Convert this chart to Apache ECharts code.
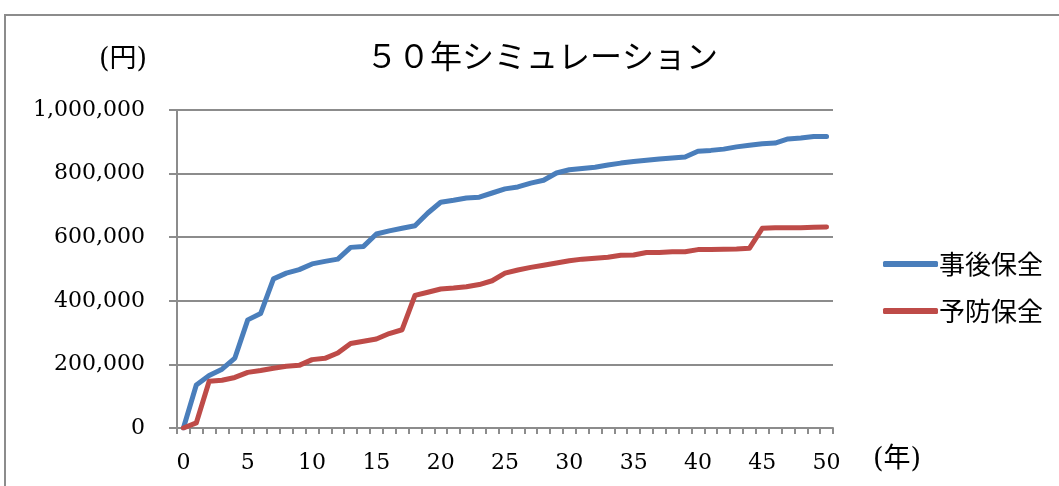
<!DOCTYPE html>
<html>
<head>
<meta charset="utf-8">
<script src="https://cdn.jsdelivr.net/npm/echarts@6/dist/echarts.min.js"></script>
<style>html,body{margin:0;padding:0;background:#fff;}#c{width:1059px;height:486px;}</style>
</head>
<body>
<div id="c"></div>
<script>
const years = Array.from({length: 51}, (_, i) => String(i));
const jigoHozen = [0,135000,165000,185000,220000,340000,360000,469000,487000,498000,
  516000,524000,531000,568000,571000,610000,620000,628000,636000,676000,
  710000,716000,723000,726000,739000,752000,758000,770000,779000,802000,
  812000,816000,820000,827000,833000,838000,842000,846000,849000,852000,
  870000,873000,877000,884000,889000,894000,896000,909000,912000,917000,917000];
const yoboHozen = [0,16000,147000,150000,159000,175000,181000,188000,194000,197000,
  215000,219000,236000,266000,273000,280000,297000,309000,417000,427000,
  437000,440000,444000,451000,463000,487000,497000,505000,512000,519000,
  526000,531000,534000,537000,543000,544000,552000,552000,554000,554000,
  561000,561000,562000,563000,565000,628000,630000,630000,630000,631000,632000];
const seriesNames = ['事後保全', '予防保全'];
const titleText = '５０年シミュレーション';
const yUnit = '(円)';
const xUnit = '(年)';

const chart = echarts.init(document.getElementById('c'));
const serif = '"DejaVu Serif", "Noto Sans CJK JP", serif';
const gray = '#8c8c8c';
chart.setOption({
  animation: false,
  backgroundColor: '#ffffff',
  title: {
    text: titleText, left: 537, top: 35, textAlign: 'center',
    textStyle: {fontFamily: '"Noto Sans CJK JP"', fontSize: 32, fontWeight: 'normal', color: '#000'}
  },
  graphic: [
    {type: 'rect', shape: {x: 5, y: 15, width: 1100, height: 520}, style: {fill: 'none', stroke: gray, lineWidth: 2}},
    {type: 'text', left: 99, top: 46, style: {text: yUnit, font: '27px ' + serif, fill: '#000'}},
    {type: 'text', left: 873, top: 446, style: {text: xUnit, font: '27px ' + serif, fill: '#000'}}
  ],
  legend: {
    orient: 'vertical', left: 878, top: 246, itemWidth: 55, itemHeight: 6, itemGap: 21,
    icon: 'roundRect',
    textStyle: {fontFamily: '"Noto Sans CJK JP"', fontSize: 26, color: '#000', padding: [0, 0, 0, -4]},
    data: seriesNames
  },
  grid: {left: 177, top: 110, width: 656, height: 318},
  xAxis: {
    type: 'category', data: years, boundaryGap: true,
    axisLine: {lineStyle: {color: gray, width: 2}},
    axisTick: {show: true, interval: 0, length: 6, lineStyle: {color: gray, width: 2}},
    axisLabel: {interval: 4, margin: 24, fontFamily: serif, fontSize: 22, color: '#000'},
    splitLine: {show: false}
  },
  yAxis: {
    type: 'value', min: 0, max: 1000000, interval: 200000,
    axisLine: {show: true, lineStyle: {color: gray, width: 2}},
    axisTick: {show: true, length: 8, lineStyle: {color: gray, width: 2}},
    axisLabel: {margin: 32, fontFamily: serif, fontSize: 22, color: '#000',
      formatter: v => v.toLocaleString('en-US')},
    splitLine: {lineStyle: {color: gray, width: 2}}
  },
  series: [
    {name: seriesNames[0], type: 'line', data: jigoHozen, symbol: 'none',
      lineStyle: {width: 5, color: '#4a7ebb', cap: 'round', join: 'round'}, itemStyle: {color: '#4a7ebb'}},
    {name: seriesNames[1], type: 'line', data: yoboHozen, symbol: 'none',
      lineStyle: {width: 5, color: '#be4b48', cap: 'round', join: 'round'}, itemStyle: {color: '#be4b48'}}
  ]
});
</script>
</body>
</html>
